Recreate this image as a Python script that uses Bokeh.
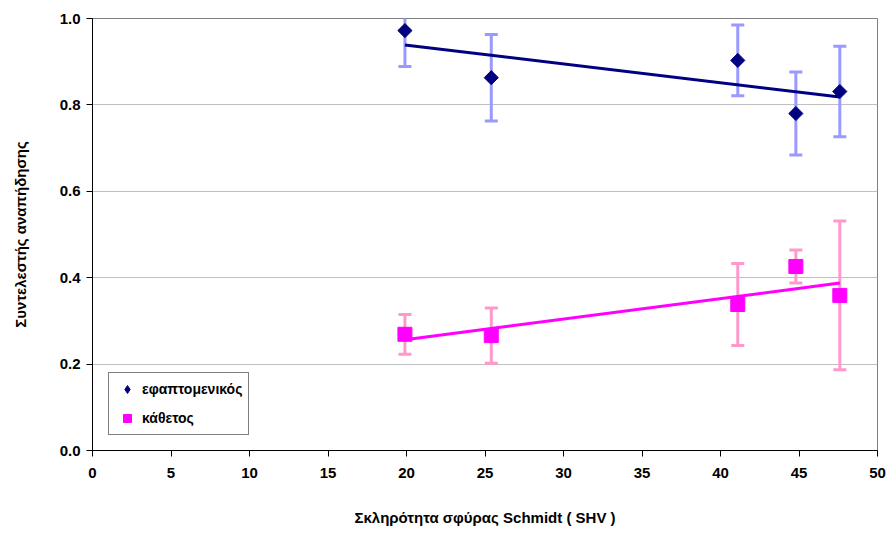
import numpy as np
from bokeh.plotting import figure
from bokeh.models import Range1d, SingleIntervalTicker, Legend, LegendItem, PrintfTickFormatter, ColumnDataSource
from bokeh.embed import file_html
from bokeh.resources import INLINE

# Data
shv_tan = [19.9, 25.4, 41.1, 44.8, 47.6]
cor_tan = [0.972, 0.863, 0.903, 0.780, 0.831]
err_tan = [0.083, 0.100, 0.082, 0.096, 0.105]

shv_nrm = [19.9, 25.4, 41.1, 44.8, 47.6]
cor_nrm = [0.269, 0.266, 0.338, 0.426, 0.359]
err_nrm = [0.046, 0.064, 0.095, 0.038, 0.172]

label_tan = "εφαπτομενικός"
label_nrm = "κάθετος"
x_title = "Σκληρότητα σφύρας Schmidt ( SHV )"
y_title = "Συντελεστής αναπήδησης"

FONT = "Liberation Sans"

p = figure(width=887, height=533, output_backend="svg", toolbar_location=None,
           x_range=Range1d(0, 50), y_range=Range1d(0, 1.0),
           min_border_left=92, min_border_right=10, min_border_top=18, min_border_bottom=83)
p.background_fill_color = "white"
p.border_fill_color = "white"
p.outline_line_color = "#808080"
p.outline_line_width = 1

# grid
p.xgrid.visible = False
p.ygrid.grid_line_color = "#c0c0c0"
p.ygrid.grid_line_width = 1

# axes
p.xaxis.ticker = SingleIntervalTicker(interval=5)
p.yaxis.ticker = SingleIntervalTicker(interval=0.2)
p.yaxis.formatter = PrintfTickFormatter(format="%.1f")
for ax in (p.xaxis[0], p.yaxis[0]):
    ax.axis_line_color = "black"
    ax.axis_line_width = 1
    ax.major_tick_line_color = "black"
    ax.major_tick_out = 6
    ax.major_tick_in = 0
    ax.minor_tick_line_color = None
    ax.major_label_text_font = FONT
    ax.major_label_text_font_style = "bold"
    ax.major_label_text_font_size = "15px"
    ax.major_label_text_color = "black"
    ax.axis_label_text_font = FONT
    ax.axis_label_text_font_style = "bold"
    ax.axis_label_text_font_size = "15px"
    ax.axis_label_text_color = "black"
p.xaxis.major_label_standoff = 11
p.yaxis.major_label_standoff = 6
p.xaxis.axis_label = x_title
p.yaxis.axis_label = y_title
p.xaxis.axis_label_standoff = 28
p.yaxis.axis_label_standoff = 28

def add_series(xs, ys, es, bar_color, mk_color, marker, size, angle, line_color):
    xs = np.array(xs); ys = np.array(ys); es = np.array(es)
    src = ColumnDataSource(dict(x=xs, y=ys, lo=ys - es, hi=ys + es))
    # error bars
    p.segment(x0="x", y0="lo", x1="x", y1="hi", source=src, line_color=bar_color, line_width=3)
    p.scatter(x="x", y="lo", source=src, marker="dash", size=13, line_color=bar_color, line_width=3)
    p.scatter(x="x", y="hi", source=src, marker="dash", size=13, line_color=bar_color, line_width=3)
    # linear trend line from data
    k, b = np.polyfit(xs, ys, 1)
    tx = np.array([xs.min(), xs.max()])
    p.line(tx, k * tx + b, line_color=line_color, line_width=3)
    p.scatter(x="x", y="y", source=src, marker=marker, size=size, angle=angle,
              fill_color=mk_color, line_color=mk_color)

add_series(shv_tan, cor_tan, err_tan, "#9999FF", "#000080", "square", 10, np.pi / 4, "#000080")
add_series(shv_nrm, cor_nrm, err_nrm, "#FF99CC", "#FF00FF", "square", 14, 0, "#FF00FF")

# legend-only glyphs (NaN = nothing drawn in the plot)
lg_tan = p.scatter(x=[np.nan], y=[np.nan], marker="diamond", fill_color="#000080", line_color="#000080")
lg_nrm = p.scatter(x=[np.nan], y=[np.nan], marker="square", fill_color="#FF00FF", line_color="#FF00FF")

legend = Legend(items=[LegendItem(label=label_tan, renderers=[lg_tan]),
                       LegendItem(label=label_nrm, renderers=[lg_nrm])],
                location=(16, 15))
legend.border_line_color = "black"
legend.border_line_width = 1
legend.background_fill_color = "white"
legend.background_fill_alpha = 1
legend.label_text_font = FONT
legend.label_text_font_style = "bold"
legend.label_text_font_size = "14px"
legend.label_text_color = "black"
legend.label_height = 20
legend.glyph_height = 20
legend.glyph_width = 24
legend.spacing = 9
legend.padding = 6
legend.margin = 0
legend.label_standoff = 3
p.add_layout(legend, "center")

open("out.html", "w").write(file_html(p, INLINE))
